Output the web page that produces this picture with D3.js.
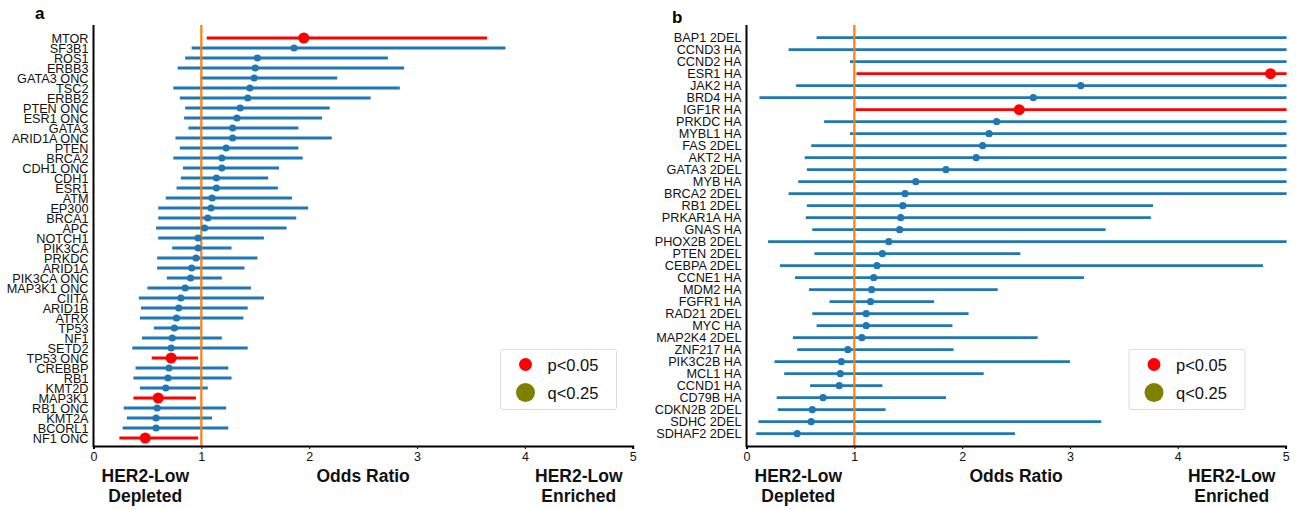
<!DOCTYPE html>
<html>
<head>
<meta charset="utf-8">
<script src="https://cdn.jsdelivr.net/npm/d3@7"></script>
<style>
  body { margin: 0; background: #fff; }
  svg { font-family: "Liberation Sans", Arial, sans-serif; }
</style>
</head>
<body>
<svg id="chart" width="1298" height="509"></svg>
<script>
// Panel a: mutations
let genesA = ["MTOR", "SF3B1", "ROS1", "ERBB3", "GATA3 ONC", "TSC2", "ERBB2", "PTEN ONC", "ESR1 ONC", "GATA3",
    "ARID1A ONC", "PTEN", "BRCA2", "CDH1 ONC", "CDH1", "ESR1", "ATM", "EP300", "BRCA1", "APC",
    "NOTCH1", "PIK3CA", "PRKDC", "ARID1A", "PIK3CA ONC", "MAP3K1 ONC", "CIITA", "ARID1B", "ATRX", "TP53",
    "NF1", "SETD2", "TP53 ONC", "CREBBP", "RB1", "KMT2D", "MAP3K1", "RB1 ONC", "KMT2A", "BCORL1", "NF1 ONC"];
let orA = [1.95, 1.86, 1.52, 1.50, 1.49, 1.45, 1.43, 1.36, 1.33, 1.29,
    1.29, 1.23, 1.19, 1.19, 1.14, 1.14, 1.10, 1.09, 1.06, 1.03,
    0.97, 0.97, 0.95, 0.91, 0.90, 0.85, 0.81, 0.79, 0.77, 0.75,
    0.73, 0.72, 0.72, 0.70, 0.69, 0.67, 0.60, 0.59, 0.58, 0.58, 0.48];
let loA = [1.05, 0.91, 0.85, 0.78, 0.99, 0.74, 0.80, 0.85, 0.84, 0.88,
    0.76, 0.80, 0.74, 0.83, 0.81, 0.77, 0.67, 0.60, 0.60, 0.58,
    0.60, 0.73, 0.59, 0.59, 0.68, 0.50, 0.42, 0.44, 0.43, 0.56,
    0.45, 0.36, 0.54, 0.39, 0.37, 0.43, 0.37, 0.28, 0.31, 0.27, 0.24];
let hiA = [3.65, 3.82, 2.73, 2.88, 2.26, 2.84, 2.57, 2.19, 2.12, 1.90,
    2.21, 1.90, 1.94, 1.72, 1.62, 1.71, 1.84, 1.99, 1.88, 1.79,
    1.58, 1.28, 1.52, 1.40, 1.19, 1.46, 1.58, 1.43, 1.39, 0.99,
    1.19, 1.43, 0.97, 1.25, 1.28, 1.06, 0.95, 1.23, 1.10, 1.25, 0.97];
let sigA = ["MTOR", "TP53 ONC", "MAP3K1", "NF1 ONC"];

// Panel b: copy number alterations
let genesB = ["BAP1 2DEL", "CCND3 HA", "CCND2 HA", "ESR1 HA", "JAK2 HA", "BRD4 HA", "IGF1R HA", "PRKDC HA",
    "MYBL1 HA", "FAS 2DEL", "AKT2 HA", "GATA3 2DEL", "MYB HA", "BRCA2 2DEL", "RB1 2DEL", "PRKAR1A HA",
    "GNAS HA", "PHOX2B 2DEL", "PTEN 2DEL", "CEBPA 2DEL", "CCNE1 HA", "MDM2 HA", "FGFR1 HA", "RAD21 2DEL",
    "MYC HA", "MAP2K4 2DEL", "ZNF217 HA", "PIK3C2B HA", "MCL1 HA", "CCND1 HA", "CD79B HA", "CDKN2B 2DEL",
    "SDHC 2DEL", "SDHAF2 2DEL"];
let orB = [6.2, 5.8, 5.5, 4.86, 3.10, 2.66, 2.53, 2.32,
    2.25, 2.19, 2.13, 1.85, 1.57, 1.47, 1.45, 1.43,
    1.42, 1.32, 1.26, 1.21, 1.18, 1.16, 1.15, 1.11,
    1.11, 1.07, 0.94, 0.88, 0.87, 0.86, 0.71, 0.61,
    0.60, 0.47];
let loB = [0.65, 0.39, 0.96, 1.02, 0.46, 0.12, 1.01, 0.72,
    0.96, 0.60, 0.54, 0.56, 0.48, 0.39, 0.56, 0.55,
    0.61, 0.20, 0.63, 0.31, 0.45, 0.58, 0.77, 0.61,
    0.65, 0.43, 0.47, 0.26, 0.35, 0.59, 0.28, 0.29,
    0.11, 0.09];
let hiB = [60, 45, 40, 25, 12, 35, 8, 9,
    7, 11, 10, 7, 8, 9, 3.77, 3.75,
    3.33, 6.5, 2.54, 4.79, 3.13, 2.33, 1.74, 2.06,
    1.91, 2.70, 1.92, 3.00, 2.20, 1.26, 1.85, 1.29,
    3.29, 2.49];
let sigB = ["ESR1 HA", "IGF1R HA"];

let xTicks = [0, 1, 2, 3, 4, 5];
let legendLabels = ["p<0.05", "q<0.25"];
let legendColors = ["#ff0000", "#808000"];

const blue = "#1f77b4", red = "#ff0000", orange = "#ff7f0e";
let svg = d3.select("#chart");

function drawPanel(p) {
    let rows = p.genes.map((g, i) => ({ gene: g, or: p.or[i], lo: p.lo[i], hi: p.hi[i], sig: p.sig.includes(g) }));
    let x = d3.scaleLinear().domain([0, 5]).range([p.x0, p.x1]);
    let y = d3.scalePoint().domain(p.genes).range([p.yFirst, p.yLast]);
    let g = svg.append("g");

    let clipId = "clip-" + p.name;
    svg.append("clipPath").attr("id", clipId)
        .append("rect")
        .attr("x", p.x0).attr("y", p.top)
        .attr("width", p.x1 - p.x0 + 1).attr("height", p.bottom - p.top);

    // panel letter
    g.append("text")
        .attr("x", p.letterX).attr("y", p.letterY)
        .attr("font-size", "17px").attr("font-weight", "bold")
        .text(p.name);

    let plot = g.append("g").attr("clip-path", "url(#" + clipId + ")");

    // CI lines
    plot.selectAll("line.ci").data(rows).enter().append("line")
        .attr("class", "ci")
        .attr("x1", d => x(d.lo)).attr("x2", d => x(d.hi))
        .attr("y1", d => y(d.gene)).attr("y2", d => y(d.gene))
        .attr("stroke", d => d.sig ? red : blue)
        .attr("stroke-width", 2.8);

    // reference line at OR = 1
    plot.append("line")
        .attr("x1", x(1)).attr("x2", x(1))
        .attr("y1", p.top).attr("y2", p.bottom)
        .attr("stroke", orange).attr("stroke-width", 2.2);

    // points
    plot.selectAll("circle.pt").data(rows).enter().append("circle")
        .attr("class", "pt")
        .attr("cx", d => x(d.or)).attr("cy", d => y(d.gene))
        .attr("r", d => d.sig ? 5.5 : 3.6)
        .attr("fill", d => d.sig ? red : blue);

    // x axis
    let xAxis = g.append("g")
        .attr("transform", "translate(0," + p.bottom + ")")
        .call(d3.axisBottom(x).tickValues(xTicks).tickFormat(d3.format("d")).tickSize(3).tickPadding(3));
    xAxis.select(".domain").attr("stroke", "#000").attr("stroke-width", 2);
    xAxis.selectAll(".tick line").attr("stroke", "#000");
    xAxis.selectAll("text").attr("font-size", "12.5px").attr("fill", "#111")
        .attr("font-family", "Liberation Sans, Arial, sans-serif");

    // y axis (labels only, no ticks)
    let yAxis = g.append("g")
        .attr("transform", "translate(" + p.x0 + ",0)")
        .call(d3.axisLeft(y).tickSize(0).tickPadding(5));
    yAxis.select(".domain").remove();
    yAxis.selectAll("text").attr("font-size", "12.7px").attr("fill", "#111")
        .attr("font-family", "Liberation Sans, Arial, sans-serif");
    g.append("line")
        .attr("x1", p.x0).attr("x2", p.x0)
        .attr("y1", p.top).attr("y2", p.bottom + 1)
        .attr("stroke", "#000").attr("stroke-width", 2);

    // bottom captions
    let cap = g.append("g").attr("font-size", "17.5px").attr("font-weight", "bold")
        .attr("text-anchor", "middle").attr("fill", "#111");
    cap.append("text").attr("x", x(0.48)).attr("y", 482).text("HER2-Low");
    cap.append("text").attr("x", x(0.48)).attr("y", 502).text("Depleted");
    cap.append("text").attr("x", x(2.5)).attr("y", 482).text("Odds Ratio");
    cap.append("text").attr("x", x(4.5)).attr("y", 482).text("HER2-Low");
    cap.append("text").attr("x", x(4.5)).attr("y", 502).text("Enriched");

    // legend
    let lg = g.append("g").attr("transform", "translate(" + p.legX + "," + p.legY + ")");
    lg.append("rect")
        .attr("x", 0).attr("y", 0).attr("width", 116).attr("height", 60)
        .attr("rx", 2).attr("fill", "#fff").attr("stroke", "#dcdcdc");
    let radii = [6.5, 9.5];
    legendLabels.forEach((lab, i) => {
        lg.append("circle").attr("cx", 25).attr("cy", 15 + i * 28)
            .attr("r", radii[i]).attr("fill", legendColors[i]);
        lg.append("text").attr("x", 47).attr("y", 21 + i * 28)
            .attr("font-size", "16.5px").attr("fill", "#111").text(lab);
    });
}

drawPanel({
    name: "a", genes: genesA, or: orA, lo: loA, hi: hiA, sig: sigA,
    x0: 93.5, x1: 632.7, top: 25, bottom: 446, yFirst: 38, yLast: 438,
    letterX: 35, letterY: 19, legX: 500.5, legY: 349.5
});
drawPanel({
    name: "b", genes: genesB, or: orB, lo: loB, hi: hiB, sig: sigB,
    x0: 746.5, x1: 1285.6, top: 25, bottom: 446, yFirst: 37.7, yLast: 433.7,
    letterX: 672, letterY: 23, legX: 1129, legY: 349.5
});
</script>
</body>
</html>
